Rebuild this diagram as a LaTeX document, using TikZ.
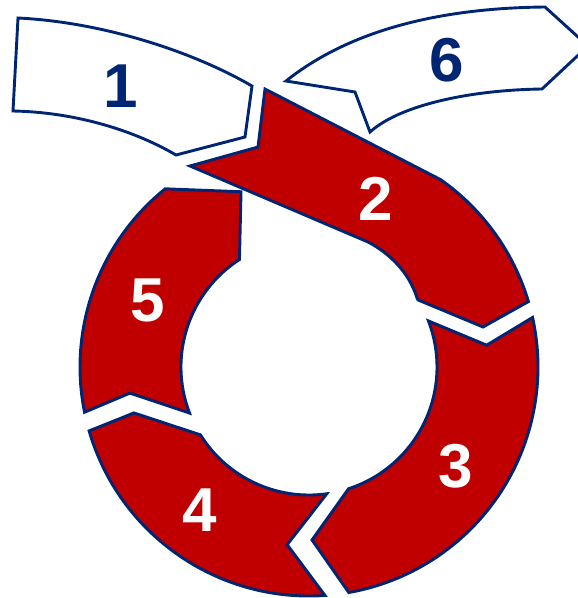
\documentclass[tikz,border=0pt]{standalone}
\usepackage{fontspec}
\setmainfont{Liberation Sans}
\definecolor{ringred}{RGB}{192,0,0}
\definecolor{navy}{RGB}{0,38,115}
\begin{document}
\begin{tikzpicture}[x=1pt,y=-1pt,
  seg/.style={fill=ringred, draw=navy, line width=2.9pt, line join=miter},
  wseg/.style={fill=white, draw=navy, line width=2.9pt, line join=miter},
  lbl/.style={font=\fontsize{62}{62}\selectfont\bfseries, inner sep=0pt}]
\useasboundingbox (0,0) rectangle (578,598);
\clip (0,0) rectangle (578,598);
% white arrows on top
\draw[wseg] (18,18) .. controls (100,22) and (190,50) .. (252,86) -- (245,137) -- (176,155)
  .. controls (130,128) and (70,112) .. (13,111) -- cycle;
\draw[wseg] (286,81) .. controls (350,30) and (440,8) .. (545,7) -- (588,46) -- (542,89)
  .. controls (470,90) and (400,105) .. (370,132) -- (355,92) -- cycle;
% ring segments
\begin{scope}[shift={(309,367)}, yscale=-1]
\draw[seg] (-44,278) -- (-51,220) -- (-119,201) -- (59,125)
  .. controls (80,114) and (100,95) .. (108,69) -- (31.6:128) -- (174,40) -- (16.6:229)
  arc[start angle=16.6, end angle=54.9, radius=229] -- cycle;
\draw[seg] (21.1:128) -- (7:179) -- (12.5:229) arc[start angle=12.5, end angle=-80, radius=229]
  -- (-89:173) -- (-72:128) arc[start angle=-72, end angle=21.1, radius=128] -- cycle;
\draw[seg] (196.2:229) -- (194.7:181) -- (212:128) arc[start angle=212, end angle=278, radius=128]
  -- (263:179) -- (274:229) arc[start angle=274, end angle=196.2, radius=229] -- cycle;
\draw[seg] (128.9:229) -- (111.2:188) -- (122.9:128) arc[start angle=122.9, end angle=201.1, radius=128]
  -- (188.3:181) -- (191.4:229) arc[start angle=191.4, end angle=128.9, radius=229] -- cycle;
\end{scope}
% labels
\node[lbl, text=navy] (l1) at (121,86) {1};
\node[lbl, text=navy] (l6) at (447,60) {6};
\node[lbl, text=white] (l2) at (376,199) {2};
\node[lbl, text=white] (l3) at (455.5,466.5) {3};
\node[lbl, text=white] (l4) at (199.5,510.5) {4};
\node[lbl, text=white] (l5) at (147.5,300) {5};
\end{tikzpicture}
\end{document}
